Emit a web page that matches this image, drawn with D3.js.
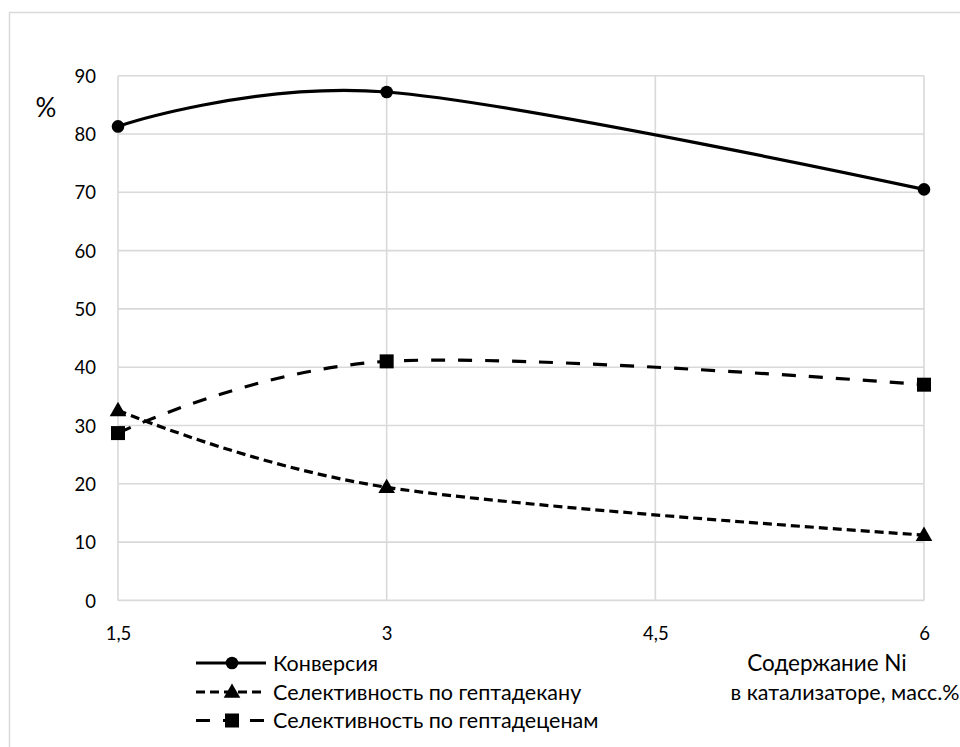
<!DOCTYPE html>
<html><head><meta charset="utf-8">
<script src="https://cdn.jsdelivr.net/npm/d3@7"></script>
<style>
html,body{margin:0;padding:0;background:#fff;}
text{font-family:Lato,"Open Sans",sans-serif;fill:#000;}
</style></head>
<body>
<svg id="chart" width="960" height="747"></svg>
<script>
const xValues = [1.5, 3, 6];
const xTicks = [1.5, 3, 4.5, 6];
const xTickLabels = ["1,5", "3", "4,5", "6"];
const yTicks = [0, 10, 20, 30, 40, 50, 60, 70, 80, 90];
const conversion = [81.3, 87.2, 70.5];
const selHeptadecane = [32.6, 19.4, 11.2];
const selHeptadecenes = [28.7, 41.0, 37.0];
const seriesNames = ["Конверсия", "Селективность по гептадекану", "Селективность по гептадеценам"];
const yLabel = "%";
const xLabelLines = ["Содержание Ni", "в катализаторе, масс.%"];

const svg = d3.select("#chart");
const x = d3.scaleLinear().domain([1.5, 6]).range([118, 924]);
const y = d3.scaleLinear().domain([0, 90]).range([600.4, 75.7]);
const grid = "#d9d9d9";

// outer border
svg.append("rect").attr("x", 9.5).attr("y", 12.5).attr("width", 1000).attr("height", 1000)
  .attr("fill", "none").attr("stroke", grid).attr("stroke-width", 1.5);

// grid
svg.append("g").selectAll("line").data(yTicks).join("line")
  .attr("x1", x(1.5)).attr("x2", x(6)).attr("y1", d => y(d)).attr("y2", d => y(d))
  .attr("stroke", grid).attr("stroke-width", 1.6);
svg.append("g").selectAll("line").data(xTicks).join("line")
  .attr("x1", d => x(d)).attr("x2", d => x(d)).attr("y1", y(0)).attr("y2", y(90))
  .attr("stroke", grid).attr("stroke-width", 1.6);

// axes (labels only)
const yAxis = d3.axisLeft(y).tickValues(yTicks).tickSize(0).tickPadding(22);
const gy = svg.append("g").attr("transform", `translate(${x(1.5)},0)`).call(yAxis);
gy.select(".domain").remove();
gy.selectAll("text").style("font-size", "18.5px").style("font-family", "Lato").attr("dy", "0.36em");

const xAxis = d3.axisBottom(x).tickValues(xTicks).tickSize(0).tickPadding(26)
  .tickFormat((d, i) => xTickLabels[i]);
const gx = svg.append("g").attr("transform", `translate(0,${y(0)})`).call(xAxis);
gx.select(".domain").remove();
gx.selectAll("text").style("font-size", "18.5px").style("font-family", "Lato");

// y label
svg.append("text").attr("x", 46).attr("y", 117).attr("text-anchor", "middle")
  .style("font-size", "26px").text(yLabel);

// x label
svg.append("text").attr("x", 827).attr("y", 671).attr("text-anchor", "middle")
  .style("font-size", "22.5px").text(xLabelLines[0]);
svg.append("text").attr("x", 845).attr("y", 700).attr("text-anchor", "middle")
  .style("font-size", "21.5px").text(xLabelLines[1]);

const line = d3.line().x((d, i) => x(xValues[i])).y(d => y(d)).curve(d3.curveCardinal.tension(0));

const series = [
  {data: conversion, dash: null, marker: "circle"},
  {data: selHeptadecane, dash: "9,5", marker: "triangle"},
  {data: selHeptadecenes, dash: "14,13", marker: "square"}
];

function drawMarker(g, type, cx, cy) {
  if (type === "circle") {
    g.append("circle").attr("cx", cx).attr("cy", cy).attr("r", 6.3).attr("fill", "#000");
  } else if (type === "square") {
    g.append("rect").attr("x", cx - 7).attr("y", cy - 7).attr("width", 14).attr("height", 14).attr("fill", "#000");
  } else {
    g.append("path").attr("d", d3.symbol(d3.symbolTriangle, 120)()).attr("transform", `translate(${cx},${cy + 1})`).attr("fill", "#000");
  }
}

series.forEach(s => {
  svg.append("path").attr("d", line(s.data)).attr("fill", "none").attr("stroke", "#000")
    .attr("stroke-width", 3.2).attr("stroke-dasharray", s.dash);
  const g = svg.append("g");
  s.data.forEach((v, i) => drawMarker(g, s.marker, x(xValues[i]), y(v)));
});

// legend
const legY = [663, 692, 720.5];
series.forEach((s, i) => {
  const g = svg.append("g");
  g.append("line").attr("x1", 196).attr("x2", 266).attr("y1", legY[i]).attr("y2", legY[i])
    .attr("stroke", "#000").attr("stroke-width", 3.2).attr("stroke-dasharray", s.dash);
  drawMarker(g, s.marker, 232, legY[i]);
  g.append("text").attr("x", 273).attr("y", legY[i]).attr("dy", "0.36em")
    .style("font-size", "21.5px").text(seriesNames[i]);
});
</script>
</body></html>
